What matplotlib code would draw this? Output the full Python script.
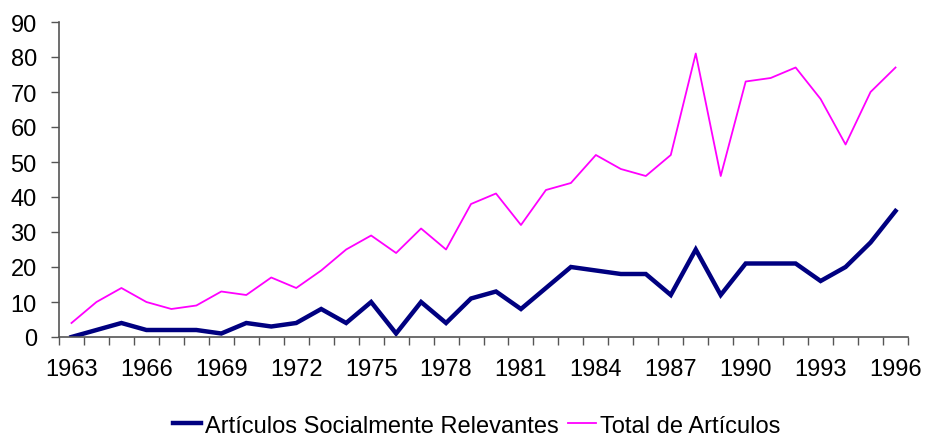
import numpy as np
import matplotlib
matplotlib.use("Agg")
import matplotlib.pyplot as plt

plt.rcParams['font.family'] = ['Liberation Sans', 'DejaVu Sans']

years = list(range(1963, 1997))
relevantes = [0, 2, 4, 2, 2, 2, 1, 4, 3, 4, 8, 4, 10, 1, 10, 4, 11, 13, 8, 14,
              20, 19, 18, 18, 12, 25, 12, 21, 21, 21, 16, 20, 27, 36]
total = [4, 10, 14, 10, 8, 9, 13, 12, 17, 14, 19, 25, 29, 24, 31, 25, 38, 41, 32, 42,
         44, 52, 48, 46, 52, 81, 46, 73, 74, 77, 68, 55, 70, 77]

fig = plt.figure(figsize=(9.25, 4.39), dpi=100)
ax = fig.add_axes([59/925, 1 - 338/439, (908-59)/925, (338-23)/439])

x = np.arange(len(years))
ax.plot(x, relevantes, color='#000080', lw=3.2, label='Artículos Socialmente Relevantes',
        solid_joinstyle='miter')
ax.plot(x, total, color='#FF00FF', lw=1.3, label='Total de Artículos')

ax.set_xlim(-0.5, len(years) - 0.5)
ax.set_ylim(0, 90)
ax.set_yticks(np.arange(0, 91, 10))

ax.set_xticks(x[::3])
ax.set_xticklabels([str(y) for y in years[::3]])
ax.set_xticks(np.arange(-0.5, len(years), 1), minor=True)
ax.tick_params(axis='x', which='major', length=0, pad=15, labelsize=17)
ax.tick_params(axis='x', which='minor', length=6, width=1, color='#555555', direction='out')
ax.tick_params(axis='y', length=6, width=1, color='#555555', direction='out', labelsize=17, pad=10)

for s in ['top', 'right']:
    ax.spines[s].set_visible(False)
for s in ['left', 'bottom']:
    ax.spines[s].set_color('#555555')
    ax.spines[s].set_linewidth(1.2)

fig.legend(loc='center', bbox_to_anchor=(0.515, 0.028), ncol=2, frameon=False,
           fontsize=17, handlelength=1.2, handletextpad=0.15, columnspacing=0.4)

fig.savefig('out.png', dpi=100)
